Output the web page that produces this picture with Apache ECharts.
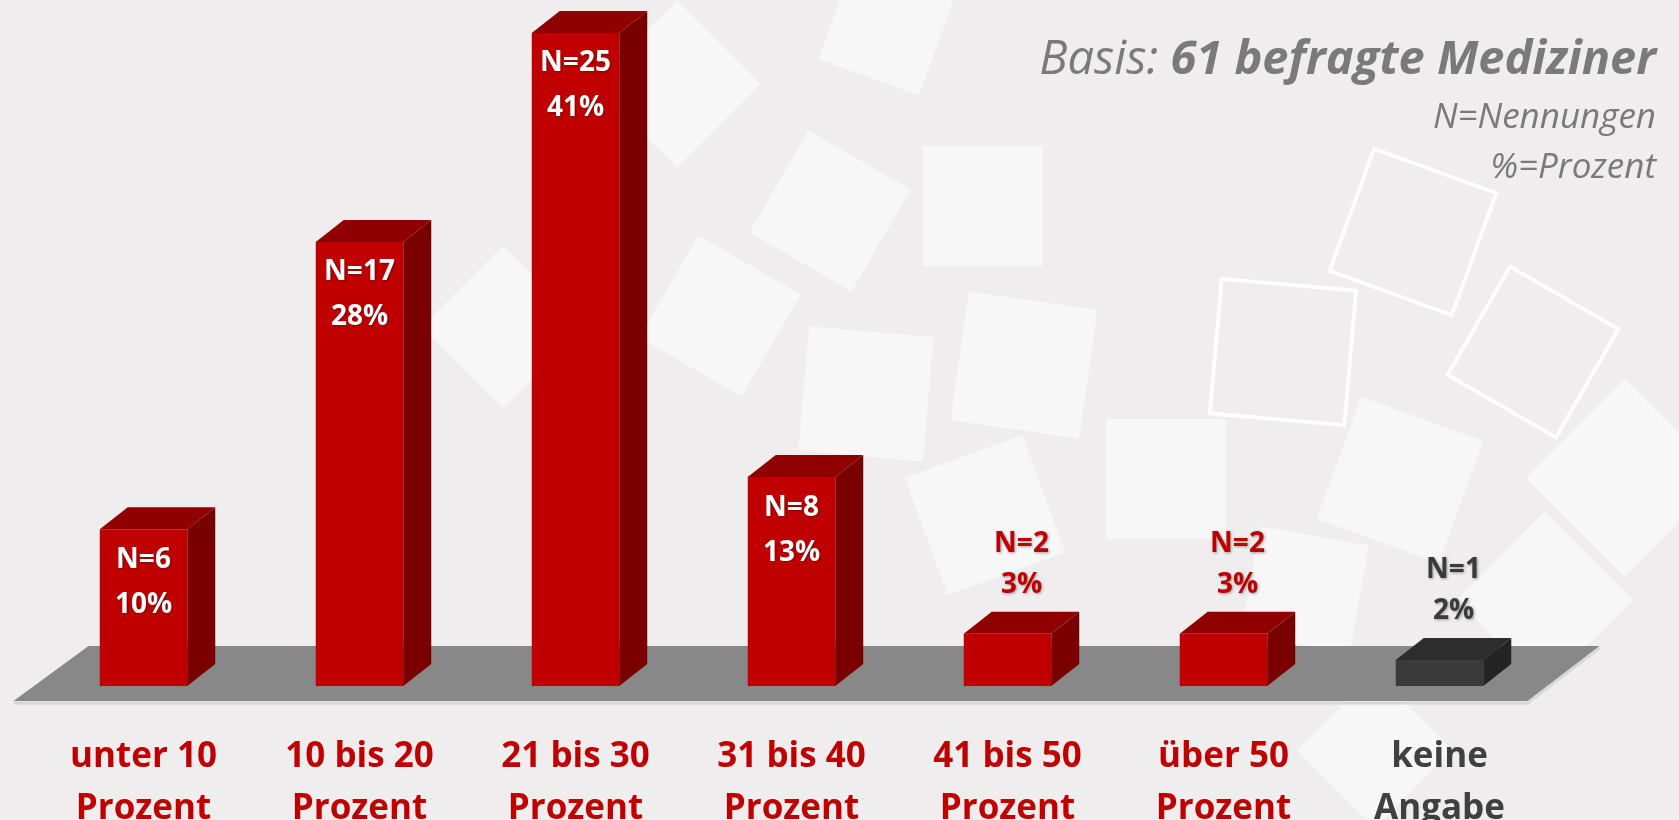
<!DOCTYPE html>
<html>
<head>
<meta charset="utf-8">
<script src="https://cdn.jsdelivr.net/npm/echarts@6/dist/echarts.min.js"></script>
<style>
html, body { margin: 0; padding: 0; background: #efedee; }
#chart { width: 1679px; height: 820px; }
</style>
</head>
<body>
<div id="chart"></div>
<script>
// Daten
const categories = ['unter 10\nProzent', '10 bis 20\nProzent', '21 bis 30\nProzent', '31 bis 40\nProzent', '41 bis 50\nProzent', 'über 50\nProzent', 'keine\nAngabe'];
const counts = [6, 17, 25, 8, 2, 2, 1];
const percents = [10, 28, 41, 13, 3, 3, 2];

const FONT = '"Open Sans", sans-serif';
const RED = ['#c00000', '#900000', '#7a0000'];
const GRAY = ['#3a3a3a', '#2d2d2d', '#242424'];
const DX = 28, DY = -22; // Tiefe der Säulen

let chart = echarts.init(document.getElementById('chart'));

// Hintergrund-Quadrate (Deko)
function square(cx, cy, size, rot, outline) {
    return {
        type: 'rect',
        x: cx, y: cy,
        rotation: -rot * Math.PI / 180,
        silent: true,
        z: -10,
        shape: { x: -size / 2, y: -size / 2, width: size, height: size },
        style: outline
            ? { fill: 'none', stroke: 'rgba(255,255,255,0.85)', lineWidth: 4 }
            : { fill: 'rgba(255,255,255,0.55)' }
    };
}
const deco = [
    square(677, 84, 118, 45), square(887, 27, 107, 20), square(830, 211, 118, 30),
    square(983, 206, 120, 0), square(503, 327, 115, 45), square(720, 316, 118, 30),
    square(866, 394, 125, 5), square(1024, 365, 130, 8), square(1166, 479, 120, 0),
    square(985, 515, 125, -20), square(1400, 480, 130, 20), square(1625, 478, 140, 45),
    square(1545, 600, 125, 45), square(1305, 590, 110, 10), square(1375, 750, 110, 45),
    square(1413, 232, 130, 20, true), square(1283, 352, 135, 5, true), square(1533, 352, 125, 30, true)
];

// Boden
function renderFloor(params, api) {
    const band = api.size([1, 0])[0];
    const p0 = api.coord([0, 0]);
    const left = p0[0] - band / 2;
    const right = left + band * categories.length;
    const fy = p0[1] + 15, by = p0[1] - 40;
    const fl = left - 22, fr = right - 20;
    return {
        type: 'group',
        children: [
            { type: 'polyline', shape: { points: [[fl, fy + 2], [fr, fy + 2], [fr + 72, by + 2]] },
              style: { stroke: '#d8d8d8', lineWidth: 3, fill: 'none' } },
            { type: 'polygon', shape: { points: [[fl, fy], [fl + 75, by], [fr + 72, by], [fr, fy]] },
              style: { fill: '#888888' } }
        ]
    };
}

// 3D-Säulen
function renderBar(params, api) {
    const i = api.value(0);
    const n = api.value(1);
    const top = api.coord([i, n]);
    const base = api.coord([i, 0]);
    const w = api.size([1, 0])[0] * 0.405;
    const x0 = top[0] - w / 2, x1 = top[0] + w / 2;
    const c = i === categories.length - 1 ? GRAY : RED;
    const inside = base[1] - top[1] > 100;
    const txt = 'N=' + n + '\n' + percents[i] + '%';
    return {
        type: 'group',
        children: [
            { type: 'polygon', shape: { points: [[x0, top[1]], [x0 + DX, top[1] + DY], [x1 + DX, top[1] + DY], [x1, top[1]]] },
              style: { fill: c[1] } },
            { type: 'polygon', shape: { points: [[x1, top[1]], [x1 + DX, top[1] + DY], [x1 + DX, base[1] + DY], [x1, base[1]]] },
              style: { fill: c[2] } },
            { type: 'rect', shape: { x: x0, y: top[1], width: w, height: base[1] - top[1] },
              style: { fill: c[0] } },
            {
                type: 'text',
                x: inside ? top[0] : top[0] + DX / 2,
                y: inside ? top[1] + 8 : top[1] - 110,
                style: {
                    text: txt,
                    align: 'center',
                    verticalAlign: 'top',
                    font: 'bold 28px ' + FONT,
                    lineHeight: inside ? 45 : 41,
                    fill: inside ? '#ffffff' : c[0],
                    textShadowColor: 'rgba(0,0,0,0.35)',
                    textShadowBlur: 3,
                    textShadowOffsetX: 1,
                    textShadowOffsetY: 1
                }
            }
        ]
    };
}

const titleStyle = { fontFamily: FONT, fontStyle: 'italic', fontWeight: 'normal', fontSize: 35, lineHeight: 40, color: '#7a7a7a' };

chart.setOption({
    backgroundColor: '#efedee',
    animation: false,
    graphic: deco,
    title: [
        {
            text: '{a|Basis: }{b|61 befragte Mediziner}',
            right: 18, top: 32,
            textStyle: {
                rich: {
                    a: { fontFamily: FONT, fontStyle: 'italic', fontWeight: 'normal', fontSize: 47, color: '#7a7a7a' },
                    b: { fontFamily: FONT, fontStyle: 'italic', fontWeight: 'bold', fontSize: 47, color: '#7a7a7a' }
                }
            }
        },
        { text: 'N=Nennungen', right: 18, top: 93, textStyle: titleStyle },
        { text: '%=Prozent', right: 18, top: 143, textStyle: titleStyle }
    ],
    grid: { left: 35.5, right: 131.5, top: 33, bottom: 134, outerBoundsMode: 'none' },
    xAxis: {
        type: 'category',
        data: categories,
        axisLine: { show: false },
        axisTick: { show: false },
        axisLabel: {
            margin: 45,
            interval: 0,
            formatter: (v, i) => {
                const k = i === categories.length - 1 ? 'g' : 'r';
                return v.split('\n').map(s => '{' + k + '|' + s + '}').join('\n');
            },
            rich: {
                r: { fontFamily: FONT, fontWeight: 'bold', fontSize: 35, lineHeight: 52, color: '#c00000' },
                g: { fontFamily: FONT, fontWeight: 'bold', fontSize: 35, lineHeight: 52, color: '#404040' }
            }
        }
    },
    yAxis: { type: 'value', min: 0, max: 25, show: false, splitLine: { show: false } },
    series: [
        { type: 'custom', renderItem: renderFloor, data: [[0, 0]], z: 1, silent: true },
        { type: 'custom', renderItem: renderBar, data: counts.map((n, i) => [i, n]), z: 2 }
    ]
});
</script>
</body>
</html>
